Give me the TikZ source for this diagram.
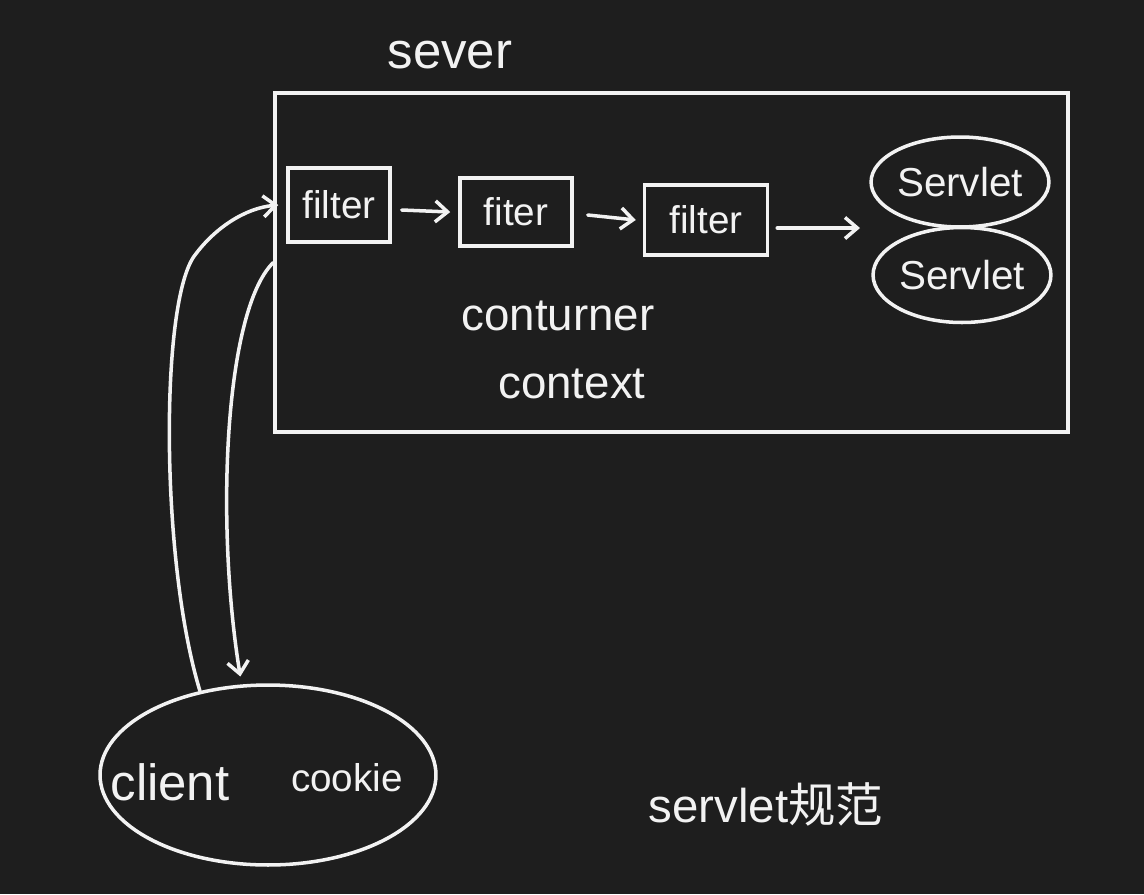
\documentclass[tikz,border=0pt]{standalone}
\usepackage{fontspec}
\setmainfont{Liberation Sans}
\newfontfamily\cjk{Noto Sans CJK SC}
\usepackage{tikz}
\usetikzlibrary{arrows.meta, calc, positioning, shapes.geometric}

\definecolor{board}{HTML}{1E1E1E}
\definecolor{chalk}{HTML}{F2F2F2}

\tikzset{
	ink/.style = {draw = chalk, line width = 2pt},
	hand/.style = {text = chalk, inner sep = 0pt},
	filterbox/.style = {ink, hand, rectangle, font = \fontsize{22}{24}\selectfont},
	servletbubble/.style = {ink, hand, ellipse, inner sep = 0pt, font = \fontsize{23}{25}\selectfont},
	flow/.style = {ink, -{Straight Barb[length = 7pt, width = 12pt]}, line cap = round},
}

\begin{document}
\begin{tikzpicture}[x = 0.02cm, y = -0.02cm]
			\fill[board] (0,0) rectangle (1144,894);
			\useasboundingbox (0,0) rectangle (1144,894);

			% the server and its container
			\node[hand, font = \fontsize{29}{31}\selectfont] (sever) at (450,55) {sever};
			\node[ink, rectangle, minimum width = 15.86cm, minimum height = 6.78cm] (server) at (671.5,262.5) {};

			\node[filterbox, minimum width = 2.04cm, minimum height = 1.48cm] (f1) at (339,205) {filter};
			\node[filterbox, minimum width = 2.24cm, minimum height = 1.36cm] (f2) at (516,212) {fiter};
			\node[filterbox, minimum width = 2.46cm, minimum height = 1.40cm] (f3) at (706,220) {filter};

			\node[servletbubble, minimum width = 3.2cm, minimum height = 1.8cm] (s1) at (960,182) {Servlet};
			\node[servletbubble, minimum width = 3.5cm, minimum height = 1.9cm] (s2) at (962,275) {Servlet};
			\coordinate (servlets) at (860,228);

			\node[hand, font = \fontsize{26}{28}\selectfont] (container) at (558,316) {conturner};
			\node[hand, font = \fontsize{26}{28}\selectfont] (context) at (572,384) {context};

			\coordinate (f1out) at ($(f1.east) + (10,5)$);
			\coordinate (f2out) at ($(f2.east) + (14,3)$);
			\coordinate (f3out) at ($(f3.east) + (8,8)$);
			\draw[flow] (f1out) -- ($(f2.west) + (-8,0)$ |- f1out);
			\draw[flow] (f2out) -- ($(f3.west) + (-7,0)$ |- f2out);
			\draw[flow] (f3out) -- (servlets);

			% the client
			\node[ink, hand, ellipse, minimum width = 6.72cm, minimum height = 3.6cm] (client) at (268,775) {};
			\node[hand, font = \fontsize{29}{31}\selectfont] (clienttext) at (170,782) {client};
			\node[hand, font = \fontsize{22}{24}\selectfont] (cookie) at (347,778) {cookie};

			\draw[flow] (client.129) .. controls (160,560) and (160,300) .. (195,255) .. controls (215,228) and (245,208) .. ($(f1.west) + (-8,0)$);
			\draw[flow] (server.west) .. controls (225,310) and (215,520) .. ($(client.107) + (0,-8)$);

			\node[hand, font = \fontsize{27}{29}\selectfont] (spec) at (766,804) {servlet{\cjk 规范}};
\end{tikzpicture}
\end{document}
